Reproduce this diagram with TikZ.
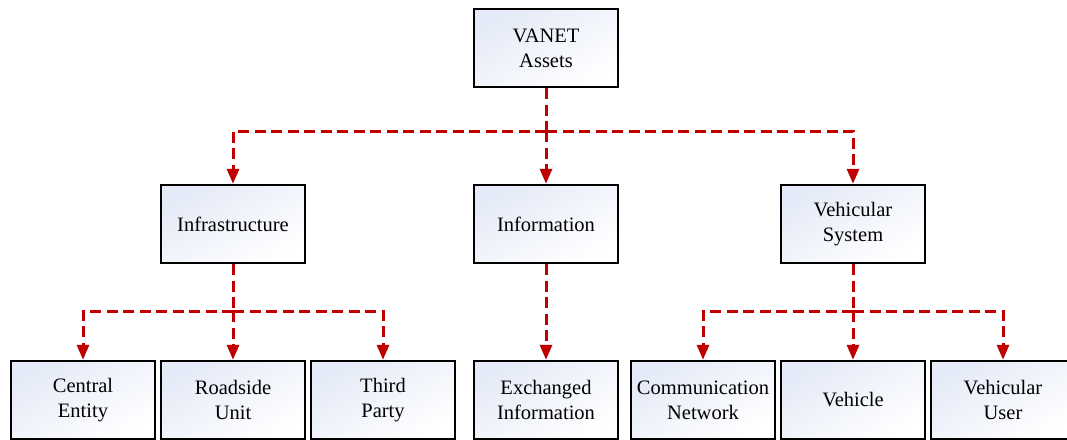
\documentclass[tikz,border=0pt]{standalone}
\usepackage{fontspec}
\setmainfont{Liberation Serif}
\usetikzlibrary{arrows.meta}
\definecolor{linkred}{HTML}{C00000}
\definecolor{boxtint}{HTML}{E4EAF7}
\begin{document}
\begin{tikzpicture}[x=1pt,y=-1pt,
  box/.style={draw=black, line width=2.4pt, top color=boxtint, bottom color=white, shading angle=30,
    minimum width=144pt, minimum height=78pt, inner sep=0pt, align=center,
    font=\fontsize{20.5}{25}\selectfont},
  link/.style={draw=linkred, line width=3pt, dash pattern=on 11pt off 5.5pt},
  arr/.style={link, -{Triangle[width=12pt,length=15pt]}}
]
\useasboundingbox (0,0) rectangle (1067,439);
% top
\node[box] (root) at (546,48) {VANET\\Assets};
% middle
\node[box] (infra) at (233,224) {Infrastructure};
\node[box] (info) at (546,224) {Information};
\node[box] (vsys) at (853,224) {Vehicular\\System};
% bottom
\node[box] (ce) at (83,400) {Central\\Entity};
\node[box] (rsu) at (233,400) {Roadside\\Unit};
\node[box] (tp) at (383,400) {Third\\Party};
\node[box] (ei) at (546,400) {Exchanged\\Information};
\node[box] (cn) at (703,400) {Communication\\Network};
\node[box] (veh) at (853,400) {Vehicle};
\node[box] (vu) at (1003,400) {Vehicular\\User};
% level 1 connectors
\coordinate (j1) at (546,131);
\draw[link] (root.south) -- (j1);
\draw[arr] (j1) -| (infra.north);
\draw[arr] (j1) -- (info.north);
\draw[arr] (j1) -| (vsys.north);
% level 2 connectors
\coordinate (j2) at (233,311);
\draw[link] (infra.south) -- (j2);
\draw[arr] (j2) -| (ce.north);
\draw[arr] (j2) -- (rsu.north);
\draw[arr] (j2) -| (tp.north);
\draw[arr] (info.south) -- (ei.north);
\coordinate (j3) at (853,311);
\draw[link] (vsys.south) -- (j3);
\draw[arr] (j3) -| (cn.north);
\draw[arr] (j3) -- (veh.north);
\draw[arr] (j3) -| (vu.north);
\end{tikzpicture}
\end{document}
